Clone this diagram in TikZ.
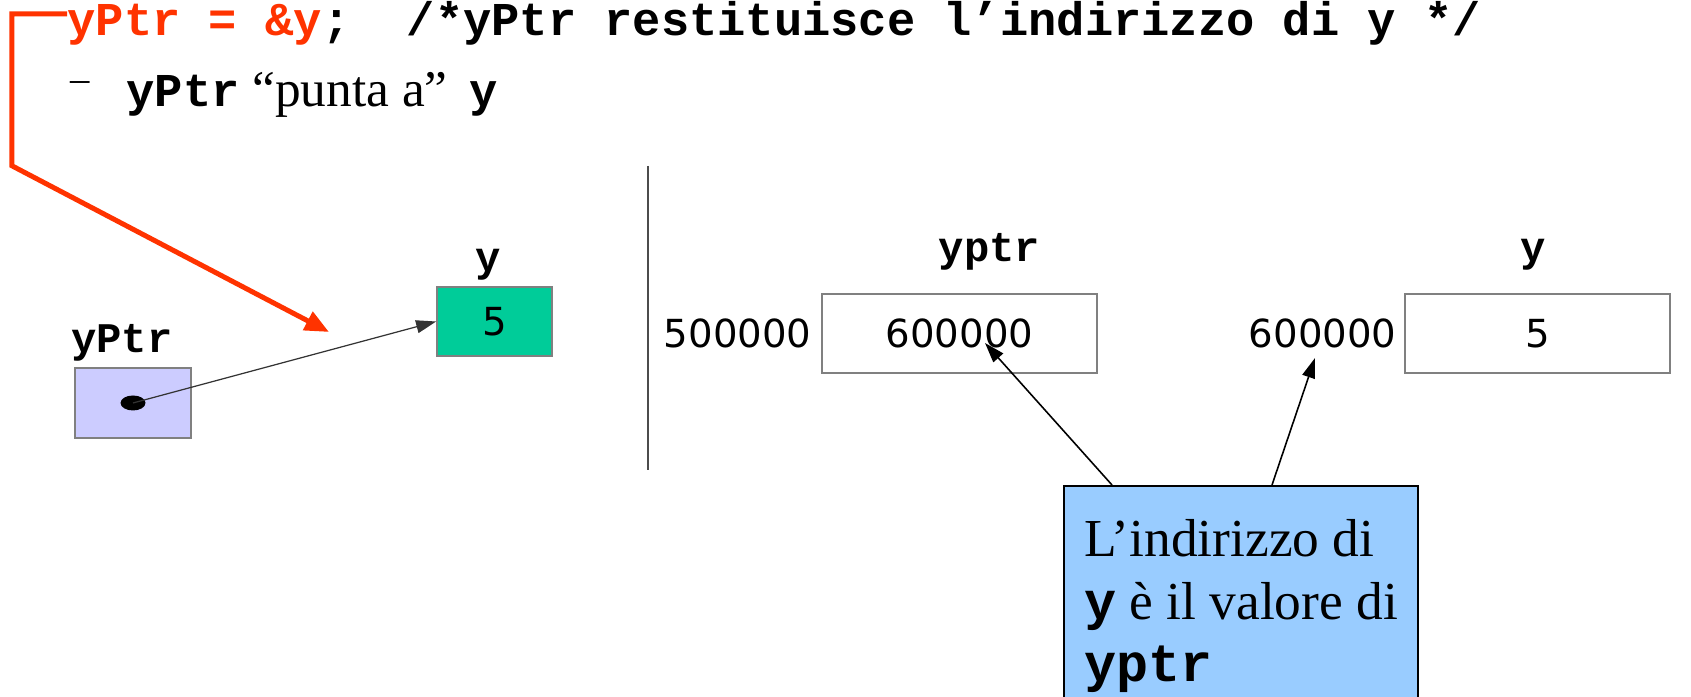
\documentclass[tikz,border=0pt]{standalone}
\usepackage{fontspec}
\setmainfont{Liberation Serif}
\setmonofont{Liberation Mono}
\newfontfamily\digitfont{DejaVu Sans}
\usetikzlibrary{shapes,arrows.meta,positioning,calc}

\definecolor{ptrred}{HTML}{FF3300}
\definecolor{ptrfill}{HTML}{CCCCFF}
\definecolor{valfill}{HTML}{00CC99}
\definecolor{notefill}{HTML}{99CCFF}

\newcommand{\cb}[1]{{\ttfamily\bfseries #1}}

\begin{document}
\begin{tikzpicture}[
    cell/.style={rectangle, draw=gray, line width=0.5pt, minimum width=1.16cm, minimum height=0.70cm, inner sep=0pt, font=\digitfont\fontsize{11}{13}\selectfont},
    mem/.style={cell, fill=white, minimum width=2.75cm, minimum height=0.79cm},
    varname/.style={font=\ttfamily\bfseries\fontsize{12}{14}\selectfont, inner sep=0pt},
    addr/.style={font=\digitfont\fontsize{11}{13}\selectfont, inner sep=0pt},
    codetext/.style={anchor=base west, inner sep=0pt, font=\ttfamily\bfseries\fontsize{13.4}{16}\selectfont},
    link/.style={line width=0.45pt, -{Triangle[length=0.2cm,width=0.13cm]}},
    redlink/.style={draw=ptrred, line width=0.05cm, -{Triangle[length=0.24cm,width=0.2cm]}}
]
    \clip (0,0) rectangle (16.91,-6.97);

    \node[codetext] (codeline) at (0.67,-0.36)
        {\textcolor{ptrred}{yPtr = \&y};~~/*yPtr restituisce l’indirizzo di y */};
    \node[anchor=base west, inner sep=0pt, font=\fontsize{14.6}{17}\selectfont] (bullet) at (0.70,-1.07)
        {\raisebox{0.15cm}{\fontsize{11}{13}\selectfont –}\hspace{0.365cm}{\fontsize{13.4}{16}\selectfont\cb{yPtr}} “punta a”\hspace{0.22cm}{\fontsize{13.4}{16}\selectfont\cb{y}}};

    \node[cell, fill=ptrfill] (ptrbox) at (1.33,-4.03) {};
    \node[cell, fill=valfill, minimum width=1.15cm, minimum height=0.69cm] (valbox) at (4.945,-3.215) {5};
    \node[varname, above=0.05cm of ptrbox, xshift=-0.11cm] (ptrname) {yPtr};
    \node[varname, above=0.05cm of valbox, xshift=-0.06cm] (valname) {y};
    \fill (ptrbox.center) ellipse (0.125cm and 0.075cm);
    \coordinate (dot) at (ptrbox.center);

    \coordinate (redtip) at (3.29,-3.32);
    \draw[redlink] (codeline.west) ++(0,0.1) -- ++(-0.55,0) -- ++(0,-1.52) -- (redtip);
    \draw[link, draw=black!80, line width=0.35pt] (dot) -- (valbox.west);

    \draw[gray!60!black, line width=0.6pt] (6.48,-1.66) -- (6.48,-4.70);

    \node[mem] (yptrmem) at (9.595,-3.335) {600000};
    \node[mem, minimum width=2.65cm] (ymem) at (15.375,-3.335) {5};
    \node[varname, above=0.22cm of yptrmem, xshift=0.3cm] (yptrname) {yptr};
    \node[varname, above=0.22cm of ymem, xshift=-0.04cm] (yname) {y};
    \node[addr, left=0.09cm of yptrmem] (yptraddr) {500000};
    \node[addr, left=0.07cm of ymem] (yaddr) {600000};

    \node[draw, line width=0.6pt, fill=notefill, anchor=north west, minimum width=3.54cm,
          minimum height=2.4cm, inner xsep=0.15cm, inner ysep=0.25cm, align=left,
          font=\fontsize{15.2}{17.9}\selectfont] (note) at (10.63,-4.85)
        {L’indirizzo di\\ \cb{y} è il valore di\\ \cb{yptr}};

    \coordinate (tipa) at (9.85,-3.43);
    \coordinate (tipb) at (13.15,-3.58);
    \draw[link] ($(note.north west)+(0.49,0)$) -- (tipa);
    \draw[link] ($(note.north west)+(2.09,0)$) -- (tipb);
\end{tikzpicture}
\end{document}
